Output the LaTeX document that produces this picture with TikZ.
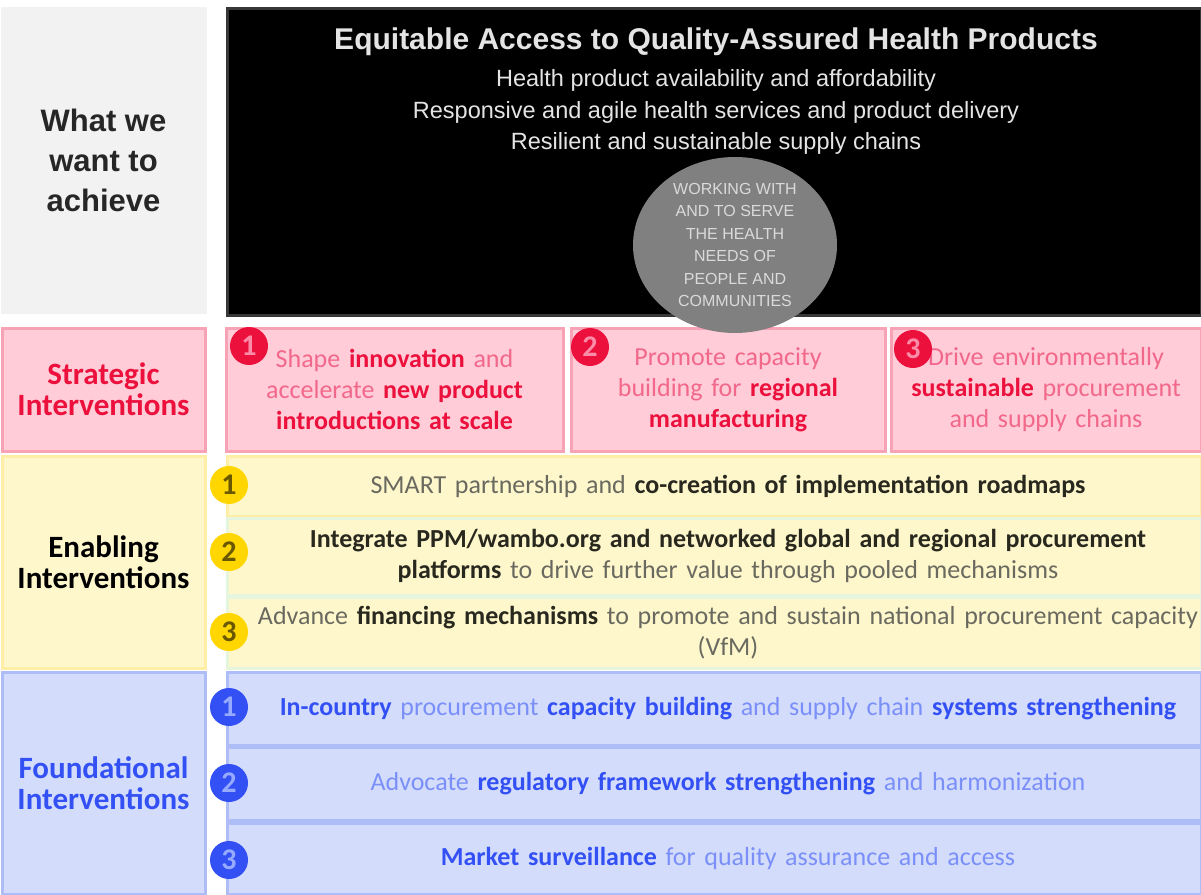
\documentclass[tikz,border=0pt]{standalone}
\usepackage{fontspec}
\setmainfont{Carlito}
\newfontfamily\headfont{Liberation Sans}
\usetikzlibrary{positioning, shapes.geometric}
\definecolor{GoalGray}{RGB}{242, 242, 242}
\definecolor{GoalBorder}{RGB}{55, 55, 55}
\definecolor{CircleGray}{RGB}{128, 128, 128}
\definecolor{CircleText}{RGB}{218, 218, 218}
\definecolor{HeadText}{RGB}{228, 228, 228}
\definecolor{StratFill}{RGB}{255, 204, 216}
\definecolor{StratBorder}{RGB}{248, 162, 182}
\definecolor{StratRed}{RGB}{236, 16, 60}
\definecolor{StratPink}{RGB}{242, 104, 138}
\definecolor{StratDigit}{RGB}{250, 140, 168}
\definecolor{EnabFill}{RGB}{255, 247, 204}
\definecolor{EnabBorder}{RGB}{255, 238, 165}
\definecolor{EnabLine}{RGB}{230, 246, 222}
\definecolor{EnabBadge}{RGB}{255, 214, 0}
\definecolor{EnabDigit}{RGB}{105, 88, 0}
\definecolor{EnabText}{RGB}{105, 105, 95}
\definecolor{EnabDark}{RGB}{40, 40, 30}
\definecolor{FoundFill}{RGB}{212, 220, 252}
\definecolor{FoundBorder}{RGB}{174, 188, 248}
\definecolor{FoundBlue}{RGB}{50, 80, 244}
\definecolor{FoundLight}{RGB}{122, 144, 248}
\definecolor{FoundDigit}{RGB}{150, 170, 255}
\newcommand{\redbf}[1]{{\bfseries\color{StratRed}#1}}
\newcommand{\darkbf}[1]{{\bfseries\color{EnabDark}#1}}
\newcommand{\bluebf}[1]{{\bfseries\color{FoundBlue}#1}}

\begin{document}
\begin{tikzpicture}[x=1pt, y=-1pt,
    cell/.style={rectangle, line width=3pt, inner sep=0pt},
    sidetext/.style={font=\fontsize{31}{31}\selectfont\bfseries, align=center},
    rowtext/.style={font=\fontsize{26}{31}\selectfont, text width=950pt, align=center},
    strattext/.style={font=\fontsize{26}{31}\selectfont, text width=300pt, align=center, text=StratPink},
    badge/.style={circle, minimum size=38pt, inner sep=0pt, font=\fontsize{30}{30}\selectfont\bfseries},
    redbadge/.style={badge, fill=StratRed, text=StratDigit},
    yellowbadge/.style={badge, fill=EnabBadge, text=EnabDigit},
    bluebadge/.style={badge, fill=FoundBlue, text=FoundDigit}]
  \fill[white] (0,0) rectangle (1201,894);
  \useasboundingbox (0,0) rectangle (1201,894);

  % what we want to achieve
  \node[cell, fill=GoalGray, draw=GoalGray, minimum width=203pt, minimum height=304pt] (goal) at (103.5,160) {};
  \node[font=\headfont\fontsize{31}{40}\selectfont\bfseries, align=center, text=black!85] (goaltext) at (goal.center) {What we\\want to\\achieve};
  \node[cell, fill=black, draw=GoalBorder, minimum width=974pt, minimum height=307pt] (target) at (714,161.5) {};
  \node[font=\headfont\fontsize{30}{30}\selectfont\bfseries, text=HeadText] (title) at (716,42) {Equitable Access to Quality-Assured Health Products};
  \node[font=\headfont\fontsize{23.5}{31.5}\selectfont, align=center, text=HeadText] (outcomes) at (716,112)
    {Health product availability and affordability\\
     Responsive and agile health services and product delivery\\
     Resilient and sustainable supply chains};

  % strategic interventions
  \node[cell, fill=StratFill, draw=StratBorder, minimum width=203pt, minimum height=123pt] (strat) at (103.5,389.5) {};
  \node[sidetext, text=StratRed] (strattitle) at (strat.center) {Strategic\\Interventions};
  \node[cell, fill=StratFill, draw=StratBorder, minimum width=337pt, minimum height=123pt] (strat1) at (394.5,389.5) {};
  \node[cell, fill=StratFill, draw=StratBorder, minimum width=314pt, minimum height=123pt] (strat2) at (728,389.5) {};
  \node[cell, fill=StratFill, draw=StratBorder, minimum width=310pt, minimum height=123pt] (strat3) at (1046,389.5) {};
  \node[strattext] at (strat1.center) {Shape \redbf{innovation} and\\accelerate \redbf{new product}\\\redbf{introductions at scale}};
  \node[strattext] at (strat2.center) {Promote capacity\\building for \redbf{regional}\\\redbf{manufacturing}};
  \node[strattext] at (strat3.center) {Drive environmentally\\\redbf{sustainable} procurement\\and supply chains};
  \node[redbadge] (sb1) at (249,346) {1};
  \node[redbadge] (sb2) at (590,347) {2};
  \node[redbadge] (sb3) at (913,349) {3};

  % enabling interventions
  \node[cell, fill=EnabFill, draw=EnabBorder, minimum width=203pt, minimum height=212pt] (enab) at (103.5,562) {};
  \node[sidetext, text=black] (enabtitle) at (enab.center) {Enabling\\Interventions};
  \node[cell, fill=EnabFill, draw=EnabBorder, minimum width=974pt, minimum height=60pt] (enab1) at (714,486) {};
  \node[cell, fill=EnabFill, draw=EnabLine, minimum width=974pt, minimum height=77pt] (enab2) at (714,556.5) {};
  \node[cell, fill=EnabFill, draw=EnabLine, minimum width=974pt, minimum height=71pt] (enab3) at (714,632.5) {};
  \node[rowtext, text=EnabText] at ([xshift=14pt]enab1.center) {SMART partnership and \darkbf{co-creation of implementation roadmaps}};
  \node[rowtext, text=EnabText] at ([xshift=14pt]enab2.center) {\darkbf{Integrate PPM/wambo.org and networked global and regional procurement}\\\darkbf{platforms} to drive further value through pooled mechanisms};
  \node[rowtext, text=EnabText] at ([xshift=14pt]enab3.center) {Advance \darkbf{financing mechanisms} to promote and sustain national procurement capacity\\(VfM)};
  \node[yellowbadge] (eb1) at (229,485) {1};
  \node[yellowbadge] (eb2) at (229,552) {2};
  \node[yellowbadge] (eb3) at (229,632) {3};

  % foundational interventions
  \node[cell, fill=FoundFill, draw=FoundBorder, minimum width=203pt, minimum height=222pt] (found) at (103.5,783) {};
  \node[sidetext, text=FoundBlue] (foundtitle) at (found.center) {Foundational\\Interventions};
  \node[cell, fill=FoundFill, draw=FoundBorder, minimum width=974pt, minimum height=73pt] (found1) at (714,708.5) {};
  \node[cell, fill=FoundFill, draw=FoundBorder, minimum width=974pt, minimum height=73pt] (found2) at (714,783.5) {};
  \node[cell, fill=FoundFill, draw=FoundBorder, minimum width=974pt, minimum height=71pt] (found3) at (714,858.5) {};
  \node[rowtext, text=FoundLight] at ([xshift=14pt]found1.center) {\bluebf{In-country} procurement \bluebf{capacity building} and supply chain \bluebf{systems strengthening}};
  \node[rowtext, text=FoundLight] at ([xshift=14pt]found2.center) {Advocate \bluebf{regulatory framework strengthening} and harmonization};
  \node[rowtext, text=FoundLight] at ([xshift=14pt]found3.center) {\bluebf{Market surveillance} for quality assurance and access};
  \node[bluebadge] (fb1) at (229,707) {1};
  \node[bluebadge] (fb2) at (229,783) {2};
  \node[bluebadge] (fb3) at (229,860) {3};

  % people and communities
  \node[ellipse, fill=CircleGray, minimum width=204pt, minimum height=176pt, inner sep=0pt,
        font=\headfont\fontsize{16}{22.5}\selectfont, align=center, text=CircleText] (people) at (735,245)
    {WORKING WITH\\AND TO SERVE\\THE HEALTH\\NEEDS OF\\PEOPLE AND\\COMMUNITIES};
\end{tikzpicture}
\end{document}
